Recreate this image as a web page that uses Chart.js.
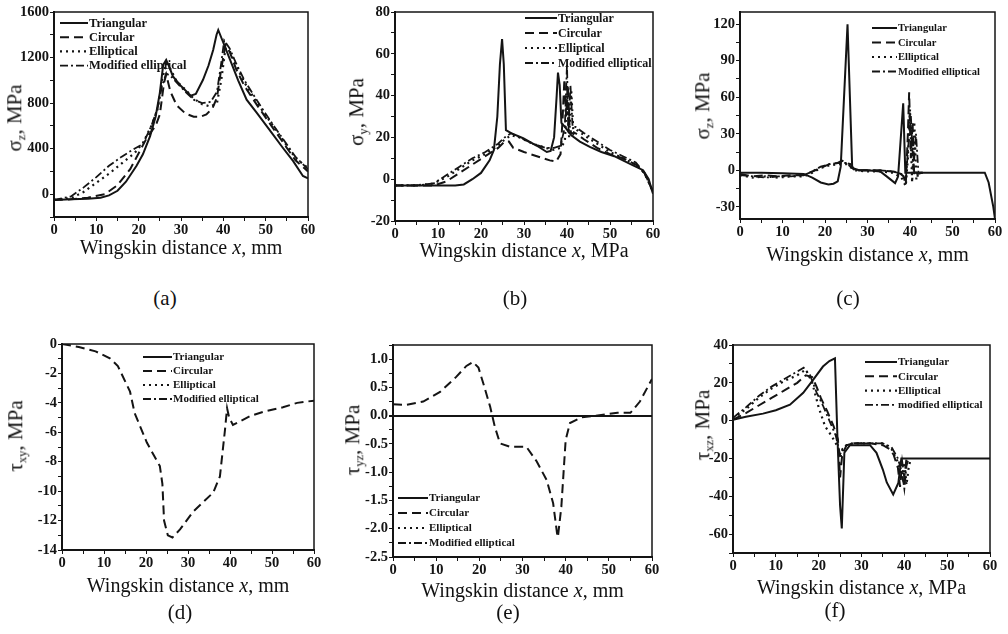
<!DOCTYPE html>
<html>
<head>
<meta charset="utf-8">
<script src="https://cdn.jsdelivr.net/npm/chart.js@4/dist/chart.umd.min.js"></script>
<style>
  html, body { margin: 0; padding: 0; background: #fff; }
  #fig { position: relative; width: 1008px; height: 634px; overflow: hidden; background: #fff;
         font-family: "Liberation Serif", "DejaVu Serif", serif; color: #111; }
  .panel { position: absolute; }
  .txt { position: absolute; white-space: nowrap; transform: translate(-50%, -50%); }
  .ytitle { position: absolute; white-space: nowrap; transform: translate(-50%, -50%) rotate(-90deg); font-size: 21px; }
  .xtitle { font-size: 20px; }
  .plabel { font-size: 21px; }
  sub { font-size: 0.6em; vertical-align: -0.35em; }
</style>
</head>
<body>
<div id="fig"></div>
<script>
// Stress distributions along the wingskin for four stiffener profiles
const seriesNames = ["Triangular", "Circular", "Elliptical", "Modified elliptical"];
const xMajor = [0, 10, 20, 30, 40, 50, 60];

// (a) sigma_z
const aTriX = [0, 4, 8, 11, 13, 15, 17, 19.5, 21, 22.7, 24, 25, 25.8, 26.5, 27.2, 28.1, 30, 32.3, 33.5, 35.2, 36.5, 37.6, 38.4, 38.8, 40, 41.6, 43.5, 45.5, 48, 51, 54, 56.5, 58.8, 60];
const aTriY = [-50, -45, -40, -30, -10, 30, 110, 250, 350, 510, 680, 890, 1136, 1180, 1120, 1034, 950, 865, 880, 1005, 1130, 1267, 1400, 1442, 1330, 1180, 1000, 830, 710, 560, 410, 290, 160, 140];
const aCirX = [0, 4, 8, 12, 15, 18, 20, 22, 24, 25, 26, 26.5, 27.5, 29, 31, 33, 34.5, 36, 37.5, 38.5, 39.5, 40.5, 41.5, 43, 45, 48, 51, 54, 57, 60];
const aCirY = [-50, -45, -30, 0, 80, 220, 360, 500, 600, 700, 980, 1050, 900, 780, 710, 680, 680, 700, 760, 850, 1100, 1310, 1250, 1100, 950, 780, 620, 460, 300, 200];
const aEllX = [0, 4, 7, 10, 13, 16, 19, 21, 23, 24.5, 25.5, 26.5, 27.5, 29, 31, 33, 35, 37, 38.5, 39.5, 40.5, 41.5, 43, 45, 48, 51, 54, 57, 60];
const aEllY = [-50, -35, 20, 100, 180, 270, 360, 450, 600, 750, 1000, 1150, 1100, 990, 920, 840, 790, 770, 800, 1000, 1280, 1260, 1130, 980, 800, 640, 480, 320, 230];
const aModX = [0, 4, 7, 10, 13, 16, 19, 21, 23, 24.5, 25.5, 26.5, 27.5, 29, 31, 33, 35, 37, 38.5, 39.5, 40.2, 41.5, 43, 45, 48, 51, 54, 57, 60];
const aModY = [-50, -20, 60, 150, 250, 330, 400, 440, 600, 760, 950, 1060, 1040, 980, 900, 830, 800, 810, 900, 1150, 1350, 1280, 1150, 1000, 820, 650, 490, 330, 220];
const aTicksY = [0, 400, 800, 1200, 1600];

// (b) sigma_y
const bTriX = [0, 5, 10, 14, 16, 18, 20, 22, 23, 23.8, 24.4, 24.9, 25.3, 25.8, 27, 29.8, 33, 35.3, 36.2, 37, 37.6, 37.9, 38.3, 38.7, 39.5, 41, 43, 45.3, 48, 51, 53, 55, 57.7, 59, 59.7, 60];
const bTriY = [-3, -3, -3, -3, -2.5, 0, 3, 9, 14, 30, 55, 67, 55, 23.5, 22, 19.6, 16, 13, 13.5, 20, 40, 51, 45, 27, 25, 21, 18, 15.5, 13, 11, 9, 7, 4.3, 0, -5, -7];
const bCirX = [0, 5, 9, 12, 15, 18, 21, 24, 25.5, 26.5, 27.5, 30, 33, 36, 37.5, 38.5, 39, 39.4, 39.8, 40.2, 40.6, 41, 42, 44, 47, 50, 53, 56, 58, 60];
const bCirY = [-3, -3, -3, -1, 3, 7, 11, 15, 18, 18, 15, 13, 11, 9, 8.5, 12, 30, 48, 30, 45, 25, 22, 22, 19, 15, 12, 10, 7, 3, -6];
const bEllX = [0, 5, 9, 12, 15, 18, 21, 24, 25.5, 27, 29, 32, 35, 37, 38.5, 39.5, 40, 40.5, 41, 41.5, 42, 44, 47, 50, 53, 56, 58, 60];
const bEllY = [-3, -3, -2, 1, 5, 9, 12, 16, 19, 21, 20, 17, 15, 14, 15, 18, 40, 20, 42, 22, 24, 21, 17, 13, 10, 7, 3, -6];
const bModX = [0, 5, 9, 12, 15, 18, 21, 24, 25.5, 27, 29, 32, 35, 37, 38.5, 39.5, 40, 40.3, 40.8, 41.3, 42, 44, 47, 50, 53, 56, 58, 60];
const bModY = [-3, -3, -2, 2, 6, 10, 13, 17, 20, 22, 20, 17, 15, 15, 16, 25, 55, 22, 45, 25, 25, 22, 18, 14, 11, 8, 3, -6];
const bTicksY = [-20, 0, 20, 40, 60, 80];

// (c) sigma_z
const cTriX = [0, 5, 10, 15, 17, 19, 20.8, 22, 23, 23.7, 25.3, 26.4, 28, 30, 33, 34.5, 36.5, 37.2, 38.4, 38.9, 40, 45, 50, 55, 57.6, 58.5, 59.6, 60];
const cTriY = [-2, -2, -2.5, -3, -6, -10, -11.7, -11, -9, 3, 120, 2, 0, 0, -1, -5, -10.5, -5, 55, -2, -2, -2, -2, -2, -2, -10, -30, -40];
const cCirX = [0, 3, 6, 9, 12, 15, 17, 19, 21, 23, 24, 25, 26, 27, 30, 33, 36, 37.5, 38.5, 39, 39.5, 39.8, 40.2, 40.6, 41, 42, 43];
const cCirY = [-3, -5, -4, -5, -4, -4, -1, 2, 5, 6, 8, 6, 5, 0, 0, 0, -1, -2, -5, -12, 30, 64, 10, 40, -5, -2, -2];
const cEllX = [0, 3, 6, 9, 12, 15, 17, 19, 21, 23, 25, 27, 30, 33, 36, 38, 39, 39.5, 40, 40.5, 41, 41.5, 42, 43];
const cEllY = [-4, -6, -5, -6, -5, -5, -2, 2, 4, 5, 5, 0, -1, -1, -2, -6, -13, 10, 50, -10, 40, -8, -2, -2];
const cModX = [0, 3, 6, 9, 12, 15, 17, 19, 21, 23, 25, 27, 30, 33, 36, 38, 39, 39.6, 40.2, 40.8, 41.4, 42, 43];
const cModY = [-4, -5, -6, -5, -5, -4, -1, 3, 5, 6, 6, 0, 0, 0, -1, -3, -8, 20, 45, 0, 30, -3, -2];
const cTicksY = [-30, 0, 30, 60, 90, 120];

// (d) tau_xy
const dCirX = [0, 4, 8, 11.4, 13.3, 16.2, 17.3, 20.2, 23.3, 23.9, 24.3, 25.2, 26.3, 28.1, 31.2, 36, 37.6, 38.8, 39.3, 39.8, 40.7, 44.8, 48, 52.6, 56, 60];
const dCirY = [0, -0.2, -0.5, -0.97, -1.5, -3.24, -4.7, -6.7, -8.3, -9.5, -12, -13.0, -13.15, -12.6, -11.4, -10.1, -9, -5.85, -4.36, -5.0, -5.5, -4.9, -4.6, -4.3, -4.0, -3.85];
const dTicksY = [-14, -12, -10, -8, -6, -4, -2, 0];

// (e) tau_yz
const eCirX = [0, 3, 7, 10.9, 14.7, 17, 18.5, 19.8, 21, 22.5, 23.6, 24.8, 27.1, 30.9, 33.3, 35.6, 37.1, 38, 38.2, 39, 39.5, 40, 41, 43.7, 47, 52, 55, 57.2, 60];
const eCirY = [0.2, 0.19, 0.25, 0.42, 0.69, 0.88, 0.95, 0.85, 0.55, 0.16, -0.2, -0.49, -0.55, -0.55, -0.81, -1.14, -1.55, -2.08, -2.15, -1.61, -1.02, -0.43, -0.13, -0.03, 0, 0.05, 0.05, 0.25, 0.65];
const eTicksY = [-2.5, -2.0, -1.5, -1.0, -0.5, 0.0, 0.5, 1.0];

// (f) tau_xz
const fTriX = [0, 3, 7, 10, 13.3, 16.4, 18.7, 21, 22.5, 23.8, 24.4, 25, 25.4, 26, 27.3, 30, 32, 33.5, 35, 35.9, 37.4, 38.6, 39.3, 45, 50, 55, 60];
const fTriY = [0.5, 2, 3.7, 5.5, 8.4, 14.7, 21.6, 28.6, 31.5, 33, -10, -45, -57, -17, -13, -13, -13, -17, -26, -32.7, -39, -33, -20, -20, -20, -20, -20];
const fCirX = [0, 3, 6, 9, 12, 15, 17, 18.5, 19.5, 20.5, 22, 23.5, 24.5, 25, 25.5, 26.5, 28, 32, 35, 36.5, 37.5, 38.5, 39, 39.5, 40, 40.5];
const fCirY = [0.5, 4, 8, 12, 16, 20, 24, 23, 18, 12, 5, -3, -10, -30, -18, -13, -12, -12, -13, -15, -18, -25, -35, -22, -30, -20];
const fEllX = [0, 3, 6, 9, 12, 15, 17, 18.5, 20, 21.5, 23, 24.5, 25, 25.5, 26.5, 28, 32, 35, 37, 38.5, 39.5, 40, 40.5, 41, 41.5];
const fEllY = [1, 6, 12, 17, 21, 24, 27, 20, 7, -3, -8, -14, -20, -16, -13, -12, -12, -12, -15, -22, -30, -22, -34, -25, -20];
const fModX = [0, 3, 6, 9, 12, 15, 16.5, 18, 19.5, 21, 22.5, 24, 25, 25.5, 26.5, 28, 32, 35, 37, 38.5, 39.5, 40, 40.5, 41];
const fModY = [1.5, 7, 13, 18, 22, 26, 28, 24, 15, 8, 0, -8, -18, -15, -13, -12, -12, -12, -14, -20, -28, -36, -24, -20];
const fTicksY = [-60, -40, -20, 0, 20, 40];

// Line styles per profile: solid, dashed, dotted, dash-dot
const styles = [
  { dash: [], width: 2 },
  { dash: [9, 5], width: 2 },
  { dash: [2, 4], width: 2.2 },
  { dash: [8, 3, 2, 3], width: 1.8 }
];

const panels = [
  { tag: "(a)", L: 54, T: 12, R: 308, B: 217, yMin: -200, yMax: 1600, yTicks: aTicksY, yMinor: 200,
    series: [[aTriX, aTriY], [aCirX, aCirY], [aEllX, aEllY], [aModX, aModY]],
    ytitle: 'σ<sub>z</sub>, MPa', ytx: 16, yty: 118, xtitle: 'Wingskin distance <i>x</i>, mm', xty: 247,
    ptag: [165, 298], legend: { x: 60, y: 23, len: 28, step: 14.2, size: 12.5 } },
  { tag: "(b)", L: 395, T: 12, R: 653, B: 221, yMin: -20, yMax: 80, yTicks: bTicksY, yMinor: 10,
    series: [[bTriX, bTriY], [bCirX, bCirY], [bEllX, bEllY], [bModX, bModY]],
    ytitle: 'σ<sub>y</sub>, MPa', ytx: 358, yty: 112, xtitle: 'Wingskin distance <i>x</i>, MPa', xty: 250,
    ptag: [515, 298], legend: { x: 525, y: 18, len: 32, step: 15, size: 12 } },
  { tag: "(c)", L: 740, T: 12, R: 995, B: 219, yMin: -40, yMax: 130, yTicks: cTicksY, yMinor: 15,
    series: [[cTriX, cTriY], [cCirX, cCirY], [cEllX, cEllY], [cModX, cModY]],
    ytitle: 'σ<sub>z</sub>, MPa', ytx: 704, yty: 106, xtitle: 'Wingskin distance <i>x</i>, mm', xty: 254,
    ptag: [848, 298], legend: { x: 872, y: 28, len: 25, step: 14.5, size: 10.5 } },
  { tag: "(d)", L: 62, T: 344, R: 314, B: 550, yMin: -14, yMax: 0, yTicks: dTicksY, yMinor: 1,
    series: [[[], []], [dCirX, dCirY], [[], []], [[], []]],
    ytitle: 'τ<sub>xy</sub>, MPa', ytx: 17, yty: 436, xtitle: 'Wingskin distance <i>x</i>, mm', xty: 585,
    ptag: [180, 612], legend: { x: 143, y: 357, len: 29, step: 14, size: 11 } },
  { tag: "(e)", L: 393, T: 345, R: 652, B: 557, yMin: -2.5, yMax: 1.25, yTicks: eTicksY, yMinor: 0.25, zeroLine: true,
    series: [[[], []], [eCirX, eCirY], [[], []], [[], []]],
    ytitle: 'τ<sub>yz</sub>, MPa', ytx: 354, yty: 440, xtitle: 'Wingskin distance <i>x</i>, mm', xty: 590,
    ptag: [508, 612], legend: { x: 398, y: 498, len: 30, step: 15, size: 11 } },
  { tag: "(f)", L: 733, T: 345, R: 990, B: 553, yMin: -70, yMax: 40, yTicks: fTicksY, yMinor: 10,
    series: [[fTriX, fTriY], [fCirX, fCirY], [fEllX, fEllY], [fModX, fModY]],
    names: ["Triangular", "Circular", "Elliptical", "modified elliptical"],
    ytitle: 'τ<sub>xz</sub>, MPa', ytx: 704, yty: 425, xtitle: 'Wingskin distance <i>x</i>, MPa', xty: 587,
    ptag: [835, 610], legend: { x: 865, y: 362, len: 32, step: 14.3, size: 11 } }
];

const INK = '#141414';
const PAD_L = 52, PAD_T = 10, PAD_R = 10, PAD_B = 24;

// Box around the plotting area
const framePlugin = {
  id: 'frame',
  afterDraw(chart) {
    const a = chart.chartArea, c = chart.ctx;
    c.save();
    c.strokeStyle = INK; c.lineWidth = 1.5;
    c.strokeRect(a.left, a.top, a.right - a.left, a.bottom - a.top);
    c.restore();
  }
};

// Line-sample legend placed inside the plotting area
const inlineLegend = {
  id: 'inlineLegend',
  afterDraw(chart, args, opts) {
    const c = chart.ctx;
    c.save();
    c.font = `bold ${opts.size}px "Liberation Serif", serif`;
    c.textBaseline = 'middle';
    chart.data.datasets.forEach((ds, i) => {
      const y = opts.y + i * opts.step;
      c.strokeStyle = INK; c.lineWidth = ds.borderWidth;
      c.setLineDash(ds.borderDash || []);
      c.beginPath(); c.moveTo(opts.x, y); c.lineTo(opts.x + opts.len, y); c.stroke();
      c.setLineDash([]);
      c.fillStyle = INK;
      c.fillText(ds.label, opts.x + opts.len + 1, y + 0.5);
    });
    c.restore();
  }
};

function buildTicks(min, max, step, majors) {
  const out = [];
  const n = Math.round((max - min) / step);
  for (let i = 0; i <= n; i++) {
    const v = +(min + i * step).toFixed(6);
    out.push(v);
  }
  majors.forEach(m => { if (!out.some(v => Math.abs(v - m) < 1e-9)) out.push(m); });
  return out.sort((p, q) => p - q);
}

const fig = document.getElementById('fig');

panels.forEach(p => {
  const left = p.L - PAD_L, top = p.T - PAD_T;
  const w = p.R - p.L + PAD_L + PAD_R, h = p.B - p.T + PAD_T + PAD_B;
  const box = document.createElement('div');
  box.className = 'panel';
  box.style.left = left + 'px'; box.style.top = top + 'px';
  box.style.width = w + 'px'; box.style.height = h + 'px';
  const cv = document.createElement('canvas');
  cv.width = w; cv.height = h;
  box.appendChild(cv);
  fig.appendChild(box);

  const names = p.names || seriesNames;
  const datasets = p.series.map((s, i) => ({
    label: names[i],
    data: s[0].map((x, k) => ({ x: x, y: s[1][k] })),
    borderColor: INK,
    borderWidth: styles[i].width,
    borderDash: styles[i].dash,
    pointRadius: 0,
    tension: 0,
    fill: false
  }));

  const xTickVals = buildTicks(0, 60, 5, xMajor);
  const yStart = Math.ceil(p.yMin / p.yMinor) * p.yMinor;
  const yTickVals = buildTicks(yStart, p.yMax, p.yMinor, p.yTicks).filter(v => v >= p.yMin && v <= p.yMax);
  const isMajor = (list, v) => list.some(m => Math.abs(m - v) < 1e-9);
  const tickFont = { family: '"Liberation Serif", serif', size: 14.5, weight: 'bold' };

  new Chart(cv, {
    type: 'line',
    data: { datasets },
    options: {
      responsive: false,
      animation: false,
      devicePixelRatio: 1,
      layout: { padding: { left: 0, top: PAD_T, right: PAD_R, bottom: 0 } },
      plugins: {
        legend: { display: false },
        tooltip: { enabled: false },
        inlineLegend: {
          x: p.legend.x - left, y: p.legend.y - top,
          len: p.legend.len, step: p.legend.step, size: p.legend.size
        }
      },
      scales: {
        x: {
          type: 'linear', min: 0, max: 60,
          afterBuildTicks: s => { s.ticks = xTickVals.map(v => ({ value: v })); },
          afterFit: s => { s.height = PAD_B; },
          border: { display: true, color: INK, width: 2 },
          grid: { display: true, drawOnChartArea: false, drawTicks: true, tickLength: 4, color: INK, lineWidth: 1 },
          ticks: {
            autoSkip: false, maxRotation: 0, color: INK, font: tickFont, padding: 1,
            callback: v => isMajor(xMajor, v) ? String(v) : ''
          }
        },
        y: {
          type: 'linear', min: p.yMin, max: p.yMax,
          afterBuildTicks: s => { s.ticks = yTickVals.map(v => ({ value: v })); },
          afterFit: s => { s.width = PAD_L; },
          border: { display: true, color: INK, width: 2 },
          grid: {
            display: true,
            drawOnChartArea: !!p.zeroLine,
            drawTicks: true, tickLength: 4,
            color: ctx => (p.zeroLine && ctx.tick && Math.abs(ctx.tick.value) < 1e-9) ? INK : (p.zeroLine ? 'rgba(0,0,0,0)' : INK),
            tickColor: INK,
            lineWidth: ctx => (p.zeroLine && ctx.tick && Math.abs(ctx.tick.value) < 1e-9) ? 2 : 1
          },
          ticks: {
            autoSkip: false, color: INK, font: tickFont, padding: 1,
            callback: v => {
              if (!isMajor(p.yTicks, v)) return '';
              return p.yMinor < 1 ? v.toFixed(1) : String(v);
            }
          }
        }
      }
    },
    plugins: [framePlugin, inlineLegend]
  });

  const yt = document.createElement('div');
  yt.className = 'ytitle';
  yt.style.left = p.ytx + 'px'; yt.style.top = p.yty + 'px';
  yt.innerHTML = p.ytitle;
  fig.appendChild(yt);

  const xt = document.createElement('div');
  xt.className = 'txt xtitle';
  xt.style.left = ((p.L + p.R) / 2) + 'px'; xt.style.top = p.xty + 'px';
  xt.innerHTML = p.xtitle;
  fig.appendChild(xt);

  const pt = document.createElement('div');
  pt.className = 'txt plabel';
  pt.style.left = p.ptag[0] + 'px'; pt.style.top = p.ptag[1] + 'px';
  pt.textContent = p.tag;
  fig.appendChild(pt);
});
</script>
</body>
</html>
